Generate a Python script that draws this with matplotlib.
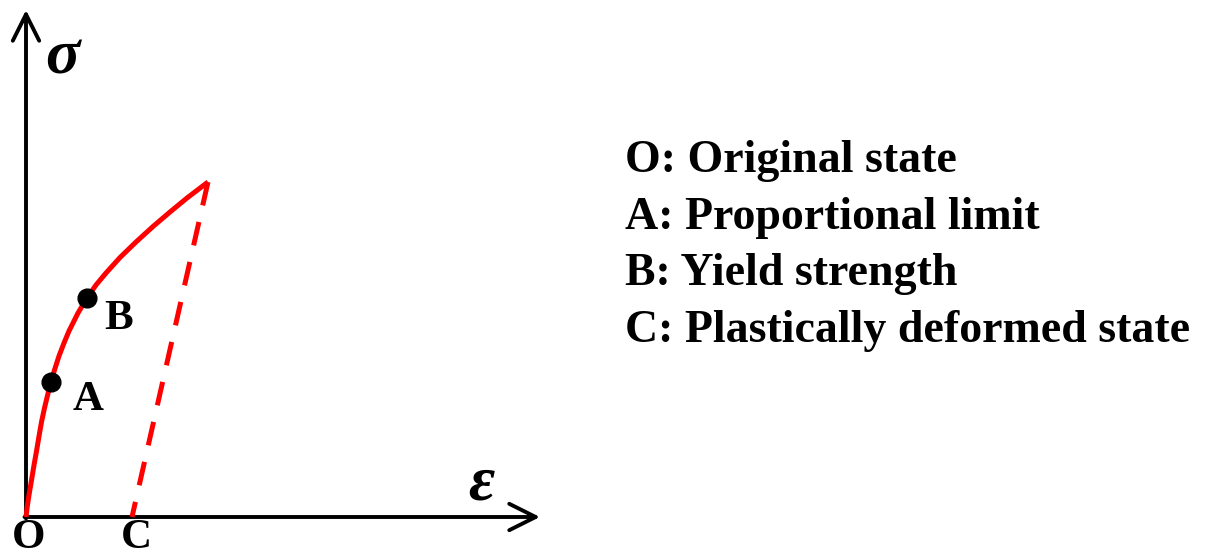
import matplotlib
matplotlib.use("Agg")
import matplotlib.pyplot as plt

# loading curve (strain, stress), arbitrary units
strain = [0.000, 0.012, 0.030, 0.057, 0.082, 0.107, 0.132, 0.157, 0.185, 0.215,
          0.247, 0.285, 0.330, 0.380, 0.430, 0.52, 0.61, 0.70, 0.80, 0.94,
          1.10, 1.27, 1.44, 1.61, 1.82]
stress = [0.000, 0.100, 0.220, 0.380, 0.530, 0.670, 0.820, 0.960, 1.090, 1.215,
          1.340, 1.470, 1.610, 1.740, 1.860, 2.040, 2.190, 2.320, 2.440, 2.595,
          2.750, 2.905, 3.050, 3.190, 3.350]

# unloading path down to the plastically deformed state C
unload_strain = [1.82, 1.06]
unload_stress = [3.35, 0.00]

point_names = ["A", "B"]
point_strain = [0.247, 0.61]
point_stress = [1.35, 2.19]

legend_lines = [
    "O: Original state",
    "A: Proportional limit",
    "B: Yield strength",
    "C: Plastically deformed state",
]

FONT = "Liberation Serif"

fig = plt.figure(figsize=(12.06, 5.57), dpi=100)
ax = fig.add_axes([0, 0, 1, 1])
ax.set_xlim(-0.26, 11.80)
ax.set_ylim(-0.40, 5.17)
ax.axis("off")

# axes with open arrow heads
arrow = dict(arrowstyle="->,head_length=1.9,head_width=0.95", lw=2.8,
             color="black", shrinkA=0, shrinkB=0, mutation_scale=10)
ax.annotate("", xy=(5.14, 0), xytext=(-0.015, 0), arrowprops=arrow)
ax.annotate("", xy=(0, 5.07), xytext=(0, -0.015), arrowprops=arrow)

ax.plot(strain, stress, color="#ff0000", lw=3.6, solid_capstyle="butt",
        solid_joinstyle="round", zorder=3)
ax.plot(unload_strain, unload_stress, color="#ff0000", lw=3.6,
        dashes=(4.8, 3.4), zorder=3)
ax.plot(point_strain, point_stress, "o", color="black", ms=13.5, zorder=4)

lab = dict(fontfamily=FONT, fontweight="bold", fontsize=31, ha="center", va="center")
ax.text(0.62, 1.17, point_names[0], **lab)
ax.text(0.93, 1.98, point_names[1], **lab)
ax.text(0.03, -0.21, "O", **lab)
ax.text(1.10, -0.21, "C", **lab)

greek = dict(fontfamily=FONT, fontweight="bold", fontstyle="italic", fontsize=46,
             ha="center", va="center")
ax.text(0.36, 4.58, "σ", **greek)
ax.text(4.55, 0.33, "ε", **greek)

for i, line in enumerate(legend_lines):
    ax.text(5.99, 3.56 - i * 0.567, line, fontfamily=FONT, fontweight="bold",
            fontsize=33, ha="left", va="center")

fig.savefig("out.png", dpi=100)
